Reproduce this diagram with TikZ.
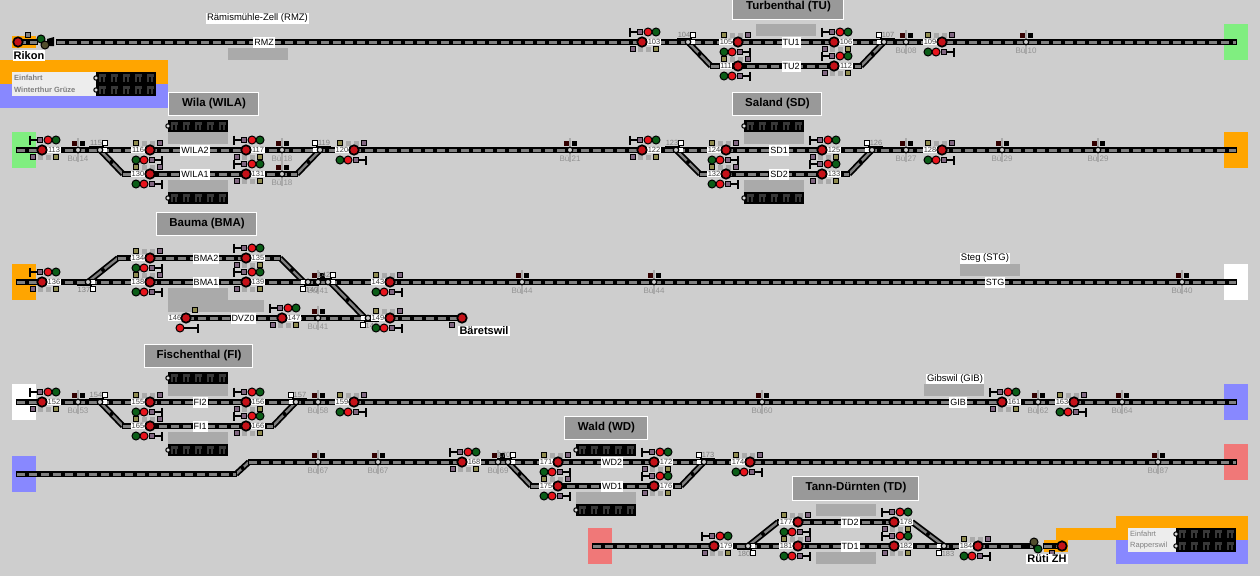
\documentclass[tikz,border=0pt]{standalone}
\usepackage{fontspec}
\setmainfont{Liberation Sans}
\usetikzlibrary{calc}

\definecolor{bgc}{HTML}{CECECE}
\definecolor{pfc}{HTML}{AAAAAA}
\definecolor{ttlc}{HTML}{999999}
\definecolor{orangec}{HTML}{FFA500}
\definecolor{bluec}{HTML}{8888FF}
\definecolor{greenc}{HTML}{80EE80}
\definecolor{redc}{HTML}{F07878}
\definecolor{lampr}{HTML}{E8141C}
\definecolor{lampg}{HTML}{0B5E18}
\definecolor{railc}{HTML}{808080}

\tikzset{
 bed/.style={line width=6pt, black},
 dashgray/.style={line width=3pt, color=railc, dash pattern=on 8pt off 4pt},
 diagray/.style={line width=2.4pt, color=railc},
 sigdot/.style={circle, draw=black, fill=lampr!85!black, line width=1.7pt, inner sep=0pt, minimum size=9.5pt},
 redl/.style={draw=black, fill=lampr, line width=1pt},
 greenl/.style={draw=black, fill=lampg, line width=1pt},
 sqgray/.style={draw=black, fill=gray!80!violet, line width=0.9pt},
 sqolive/.style={draw=black, fill=olive!45!gray, line width=0.9pt},
 sqlight/.style={fill=pfc},
 numlbl/.style={fill=white, inner sep=0.6pt, font=\fontsize{7.5}{8}\selectfont, text=black!75},
 swnum/.style={inner sep=0pt, font=\fontsize{7.5}{8}\selectfont, text=gray},
 tile/.style={draw=black, fill=white, line width=0.9pt},
 ringn/.style={circle, draw=black, fill=gray!40, line width=1.2pt, inner sep=0pt, minimum size=5.5pt},
 buelbl/.style={inner sep=0pt, font=\fontsize{8}{9}\selectfont, text=gray!85},
 trklbl/.style={fill=white, inner sep=1pt, minimum height=11pt, font=\fontsize{9}{10}\selectfont},
 bigname/.style={fill=white, inner sep=1.2pt, font=\fontsize{11}{12}\selectfont\bfseries},
 plainname/.style={fill=white, inner sep=1pt, font=\fontsize{9.5}{11}\selectfont},
}

% track pieces
\newcommand{\trk}[2]{%
 \draw[bed, shorten <=-1pt, shorten >=-1pt] (#1) -- (#2);
 \draw[dashgray] (#1) -- (#2);}
\newcommand{\diag}[2]{%
 \draw[bed] (#1) -- (#2);
 \draw[diagray] (#1) -- (#2);
 \fill[black] ($(#1)!.5!(#2)$) circle (2pt);}

% signal: name, x, y, side
\newcommand{\sgn}[4]{%
 \begin{scope}[shift={(#2,#3)},xscale=#4,yscale=#4]
 \draw[line width=1.7pt] (-12,-10) -- (-2,-10);
 \draw[line width=2.8pt] (-12,-14.5) -- (-12,-5.5);
 \draw[sqgray] (-4.5,-12.5) rectangle (0.5,-7.5);
 \draw[greenl] (14,-10) circle (4);
 \draw[redl] (6,-10) circle (4);
 \draw[sqgray] (-12,4.5) rectangle (-7,9.5);
 \fill[sqlight] (-4.5,4.5) rectangle (0.5,9.5);
 \fill[sqlight] (3.5,4.5) rectangle (8.5,9.5);
 \draw[sqolive] (11.5,4.5) rectangle (16.5,9.5);
 \node[numlbl] (n#1) at (12,0) {#1};
 \node[sigdot] (s#1) at (0,0) {};
 \end{scope}}

% switch: name, x, y, side x, side y
\newcommand{\swt}[5]{%
 \begin{scope}[shift={(#2,#3)},xscale=#4,yscale=#5]
 \draw[line width=0.7pt] (4,3.5) -- (-11,3.5);
 \node[swnum] (m#1) at (-4,7.5) {#1};
 \draw[tile] (2.5,4.5) rectangle (7.5,9.5);
 \fill[white] (3,-2) rectangle (7,2);
 \node[ringn] (r#1) at (0,0) {};
 \end{scope}}

% level crossing: name, x, y
\newcommand{\bue}[3]{%
 \begin{scope}[shift={(#2,#3)}]
 \draw[pfc, line width=2pt] (0,-12) -- (0,12);
 \fill[black!60!red!50!black] (-6.5,-9.5) rectangle (-1.5,-4.5);
 \fill[black] (1.5,-9.5) rectangle (6.5,-4.5);
 \node[ringn] (ring#2-#3) at (0,0) {};
 \node[buelbl] (bue#2-#3) at (0,8.5) {Bü #1};
 \end{scope}}

% display board: x, y
\newcommand{\disp}[2]{%
 \begin{scope}[shift={(#1,#2)}]
 \fill[black] (0,0) rectangle (60,12);
 \foreach \k in {0,...,4} {
  \fill[black!78] (\k*12+2.5,2) rectangle (\k*12+9.5,5);
  \fill[black!78] (\k*12+3,5) rectangle (\k*12+4.5,10);
  \fill[black!78] (\k*12+7,5) rectangle (\k*12+8.5,10);
 }
 \draw[black, fill=white!85!black, line width=1pt] (0,6) circle (2.2);
 \end{scope}}

\begin{document}
\begin{tikzpicture}[x=1pt, y=-1pt]
\useasboundingbox (0,0) rectangle (1260,576);
\clip (0,0) rectangle (1260,576);
\fill[bgc] (0,0) rectangle (1260,576);

% coloured ends
\fill[orangec] (12,36) rectangle (36,48);
\fill[orangec] (0,60) rectangle (168,84);
\fill[bluec] (0,84) rectangle (168,108);
\fill[greenc] (1224,24) rectangle (1248,60);
\fill[greenc] (12,132) rectangle (36,168);
\fill[orangec] (1224,132) rectangle (1248,168);
\fill[orangec] (12,264) rectangle (36,300);
\fill[white] (1224,264) rectangle (1248,300);
\fill[white] (12,384) rectangle (36,420);
\fill[bluec] (1224,384) rectangle (1248,420);
\fill[bluec] (12,456) rectangle (36,492);
\fill[redc] (1224,444) rectangle (1248,480);
\fill[redc] (588,528) rectangle (612,564);
\fill[orangec] (1044,540) rectangle (1068,552);
\fill[orangec] (1056,528) rectangle (1116,540);
\fill[orangec] (1116,516) rectangle (1248,540);
\fill[bluec] (1116,540) rectangle (1248,564);

% platforms
\fill[pfc] (228,48) rectangle (288,60);
\fill[pfc] (756,24) rectangle (816,36);
\fill[pfc] (168,132) rectangle (228,144);
\fill[pfc] (168,180) rectangle (228,193);
\fill[pfc] (744,132) rectangle (804,144);
\fill[pfc] (744,180) rectangle (804,192);
\fill[pfc] (168,288) rectangle (228,312);
\fill[pfc] (228,300) rectangle (264,312);
\fill[pfc] (960,264) rectangle (1020,276);
\fill[pfc] (168,384) rectangle (228,396);
\fill[pfc] (168,432) rectangle (228,444);
\fill[pfc] (924,384) rectangle (984,396);
\fill[pfc] (576,492) rectangle (636,504);
\fill[pfc] (816,504) rectangle (876,516);
\fill[pfc] (816,552) rectangle (876,564);

% station titles
\foreach \xa/\ya/\xb/\yb/\nam in {732/-5/843/19/Turbenthal (TU), 168/92/258/115/Wila (WILA), 732/92/821/115/Saland (SD), 156/212/256/235/Bauma (BMA), 144/344/252/367/Fischenthal (FI), 564/416/647/439/Wald (WD), 792/476/918/500/Tann-Dürnten (TD)} {
 \draw[white, fill=ttlc, line width=1pt] (\xa,\yb) -- (\xb,\yb) -- (\xb,\ya) -- (\xa,\ya) -- cycle;
 \node[font=\fontsize{11.5}{12}\selectfont\bfseries, inner sep=0pt] (ttl\xa) at ({(\xa+\xb)/2+1},{(\ya+\yb)/2}) {\nam};
}

% track ends and knees
\coordinate (r1a) at (57,42); \coordinate (r1b) at (1236,42);
\coordinate (r2a) at (17,150); \coordinate (r2b) at (1236,150);
\coordinate (r3a) at (17,282); \coordinate (r3b) at (1236,282);
\coordinate (r3c) at (186,318); \coordinate (r3d) at (462,318);
\coordinate (r4a) at (17,402); \coordinate (r4b) at (1236,402);
\coordinate (r5a) at (17,474); \coordinate (r5b) at (1236,462);
\coordinate (k5a) at (236,474); \coordinate (k5b) at (249,462);
\coordinate (r6a) at (593,546); \coordinate (r6b) at (1036,546);
\coordinate (rika) at (18,42); \coordinate (rikb) at (37,42);
\coordinate (ruta) at (1044,546); \coordinate (rutb) at (1062,546);
\coordinate (w104) at (688,42); \coordinate (k104) at (711,66);
\coordinate (w107) at (884,42); \coordinate (k107) at (861,66);
\coordinate (w115) at (100,150); \coordinate (k115) at (123,174);
\coordinate (w119) at (320,150); \coordinate (k119) at (297,174);
\coordinate (w123) at (676,150); \coordinate (k123) at (700,174);
\coordinate (w126) at (872,150); \coordinate (k126) at (849,174);
\coordinate (w137) at (88,282); \coordinate (k137) at (118,258);
\coordinate (w140) at (304,282); \coordinate (k140) at (280,258);
\coordinate (w142) at (330,282); \coordinate (w148) at (365,318);
\coordinate (w154) at (100,402); \coordinate (k154) at (123,426);
\coordinate (w157) at (296,402); \coordinate (k157) at (273,426);
\coordinate (w170) at (508,462); \coordinate (k170) at (531,486);
\coordinate (w173) at (704,462); \coordinate (k173) at (681,486);
\coordinate (w180) at (748,546); \coordinate (k180) at (778,522);
\coordinate (w183) at (944,546); \coordinate (k183) at (912,522);

\diag{w104}{k104} \diag{k107}{w107} \diag{w115}{k115} \diag{k119}{w119}
\diag{w123}{k123} \diag{k126}{w126} \diag{w137}{k137} \diag{k140}{w140}
\diag{w142}{w148} \diag{w154}{k154} \diag{k157}{w157} \diag{w170}{k170}
\diag{k173}{w173} \diag{w180}{k180} \diag{k183}{w183} \diag{k5a}{k5b}

\trk{r1a}{r1b} \trk{r2a}{r2b} \trk{r3a}{r3b} \trk{r3c}{r3d} \trk{r4a}{r4b}
\trk{r5a}{k5a} \trk{k5b}{r5b} \trk{r6a}{r6b} \trk{rika}{rikb} \trk{ruta}{rutb}
\trk{k104}{k107} \trk{k115}{k119} \trk{k123}{k126} \trk{k137}{k140}
\trk{k154}{k157} \trk{k170}{k173} \trk{k180}{k183}

% track names
\foreach \px/\py/\nam in {264/42/RMZ, 791/42/TU1, 791/66/TU2, 195/150/WILA2, 195/174/WILA1, 779/150/SD1, 779/174/SD2, 206/258/BMA2, 206/282/BMA1, 243/318/DVZ0, 995/282/STG, 200/402/FI2, 200/426/FI1, 958/402/GIB, 612/462/WD2, 612/486/WD1, 850/522/TD2, 850/546/TD1} {
 \node[trklbl] (t\nam) at (\px,\py) {\nam};
}

% level crossings
\foreach \nam/\px/\py in {08/906/42, 10/1026/42, 14/78/150, 18/282/150, 18/282/174, 21/570/150, 27/906/150, 29/1002/150, 29/1098/150, 41/318/282, 41/318/318, 44/522/282, 44/654/282, 40/1182/282, 53/78/402, 58/318/402, 60/762/402, 62/1038/402, 64/1122/402, 67/318/462, 67/378/462, 69/498/462, 87/1158/462} {
 \bue{\nam}{\px}{\py}
}

% switches
\foreach \nam/\px/\py/\sx/\sy in {104/688/42/1/-1, 107/884/42/-1/-1, 115/100/150/1/-1, 119/320/150/-1/-1, 123/676/150/1/-1, 126/872/150/-1/-1, 137/88/282/1/1, 140/308/282/-1/1, 142/328/282/1/-1, 148/368/318/-1/1, 154/100/402/1/-1, 157/296/402/-1/-1, 170/508/462/1/-1, 173/704/462/-1/-1, 180/748/546/1/1, 183/944/546/-1/1} {
 \swt{\nam}{\px}{\py}{\sx}{\sy}
}

% signals
\foreach \nam/\px/\py/\sd in {103/642/42/1, 105/738/42/-1, 106/834/42/1, 109/942/42/-1, 111/738/66/-1, 112/834/66/1,
 113/42/150/1, 116/150/150/-1, 117/246/150/1, 120/354/150/-1, 130/150/174/-1, 131/246/174/1,
 122/642/150/1, 124/726/150/-1, 125/822/150/1, 128/942/150/-1, 132/726/174/-1, 133/822/174/1,
 136/42/282/1, 134/150/258/-1, 135/246/258/1, 138/150/282/-1, 139/246/282/1, 143/390/282/-1, 147/282/318/1, 149/390/318/-1,
 152/42/402/1, 155/150/402/-1, 156/246/402/1, 159/354/402/-1, 165/150/426/-1, 166/246/426/1, 161/1002/402/1, 163/1074/402/-1,
 168/462/462/1, 171/558/462/-1, 172/654/462/1, 174/750/462/-1, 175/558/486/-1, 176/654/486/1,
 179/714/546/1, 177/798/522/-1, 178/894/522/1, 181/798/546/-1, 182/894/546/1, 184/978/546/-1} {
 \sgn{\nam}{\px}{\py}{\sd}
}

% dwarf signal 146 and line ends
\draw[line width=1.7pt] (180,328) -- (198,328);
\draw[line width=2.8pt] (198,323.5) -- (198,332.5);
\draw[redl] (180,328) circle (4);
\draw[sqolive] (192.5,307.5) rectangle (197.5,312.5);
\node[numlbl] (n146) at (175,318) {146};
\node[sigdot] (s146) at (186,318) {};
\draw[sqgray] (449.5,322.5) rectangle (454.5,327.5);
\node[sigdot] (send) at (462,318) {};

% Rikon
\node[sigdot] (srik) at (18,42) {};
\draw[sqgray, fill=gray] (25,32.5) rectangle (30,37.5);
\fill[black] (47,39) -- (54,37) -- (54,46) -- (47,46) -- cycle;
\draw[greenl] (41,39) circle (4);
\draw[greenl, fill=olive!45!black] (45,45) circle (4);
\node[bigname] (lrik) at (29,55.5) {Rikon};

% Rueti
\fill[black] (1024,543) rectangle (1030,549);
\draw[greenl, fill=olive!45!black] (1034,542) circle (4);
\draw[greenl] (1038,549) circle (4);
\draw[sqgray] (1049.5,550.5) rectangle (1054.5,555.5);
\node[sigdot] (srut) at (1062,546) {};
\node[bigname] (lrut) at (1047,559) {Rüti ZH};
\node[bigname] (lbar) at (484,331) {Bäretswil};

% small station names
\node[plainname] (lrmz) at (257.5,18.5) {Rämismühle-Zell (RMZ)};
\node[plainname] (lstg) at (985,258.5) {Steg (STG)};
\node[plainname] (lgib) at (955,379) {Gibswil (GIB)};

% destination tables
\fill[white!93!black] (12,72) rectangle (96,96);
\fill[white!93!black] (1128,528) rectangle (1176,552);
\node[anchor=west, inner sep=0pt, text=gray, font=\fontsize{7.5}{8}\selectfont\bfseries] (ein1) at (14,78) {Einfahrt};
\node[anchor=west, inner sep=0pt, text=gray, font=\fontsize{7.5}{8}\selectfont\bfseries] (win1) at (14,90) {Winterthur Grüze};
\node[anchor=west, inner sep=0pt, text=gray, font=\fontsize{7.5}{8}\selectfont] (ein2) at (1130,534) {Einfahrt};
\node[anchor=west, inner sep=0pt, text=gray, font=\fontsize{7.5}{8}\selectfont] (rap2) at (1130,546) {Rapperswil};

% display boards
\foreach \px/\py in {96/72, 96/84, 1176/528, 1176/540, 168/120, 168/192, 744/120, 744/192, 168/372, 168/444, 576/444, 576/504} {
 \disp{\px}{\py}
}
\end{tikzpicture}
\end{document}
